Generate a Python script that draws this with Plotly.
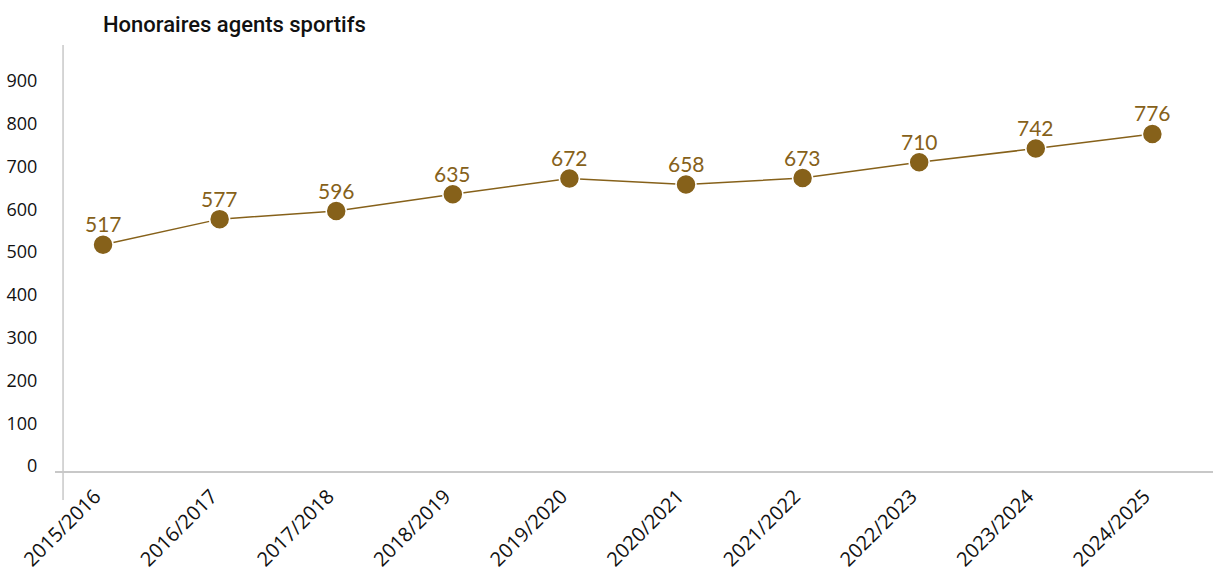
import plotly.graph_objects as go

seasons = ["2015/2016", "2016/2017", "2017/2018", "2018/2019", "2019/2020",
           "2020/2021", "2021/2022", "2022/2023", "2023/2024", "2024/2025"]
fees = [517, 577, 596, 635, 672, 658, 673, 710, 742, 776]
y_ticks = [0, 100, 200, 300, 400, 500, 600, 700, 800, 900]

gold = "#86611A"
xs = list(range(len(seasons)))

fig = go.Figure()
fig.add_trace(go.Scatter(
    x=xs, y=fees,
    mode="lines+markers",
    line=dict(color=gold, width=1.5),
    marker=dict(size=20, color=gold, line=dict(color="white", width=1.5)),
    cliponaxis=False,
    showlegend=False,
))

for xi, v in zip(xs, fees):
    fig.add_annotation(x=xi, y=v, text=str(v), showarrow=False,
                       yshift=21, yanchor="middle", xanchor="center",
                       font=dict(family="Lato, sans-serif", size=21, color=gold))

fig.update_layout(
    width=1221, height=572,
    margin=dict(l=55, r=8, t=45, b=101, autoexpand=False),
    paper_bgcolor="white", plot_bgcolor="white",
    title=dict(text="Honoraires agents sportifs", x=103/1221, xanchor="left",
               y=1 - 24/572, yanchor="middle",
               font=dict(family="Roboto, sans-serif", size=22, color="#111111", weight=500)),
    xaxis=dict(
        range=[-0.412, 9.52], automargin=False,
        tickmode="array", tickvals=xs, ticktext=seasons,
        tickangle=-45, showgrid=False, zeroline=False,
        showline=True, linecolor="#C8C8C8", linewidth=1.5,
        ticks="", ticklabelshift=-8, ticklabelstandoff=4,
        tickfont=dict(family="Open Sans, sans-serif", size=20, color="#111111"),
    ),
    yaxis=dict(
        range=[-11.7, 984], automargin=False,
        tickmode="array", tickvals=y_ticks,
        showgrid=False, zeroline=False, showline=False,
        ticks="outside", ticklen=13, tickcolor="rgba(0,0,0,0)",
        tickfont=dict(family="Open Sans, sans-serif", size=18, color="#111111"),
    ),
    shapes=[dict(type="line", xref="x", yref="paper",
                 x0=-0.343, x1=-0.343, y0=-29/426, y1=1,
                 line=dict(color="#C8C8C8", width=1.5))],
)

fig.write_html("out.html", config={"displayModeBar": False},
               post_script="document.body.style.margin='0';")
